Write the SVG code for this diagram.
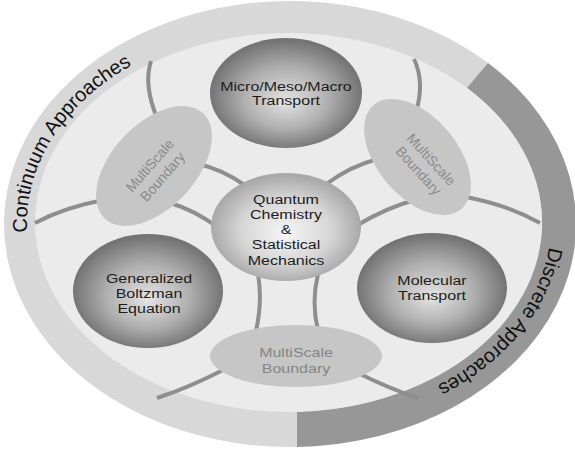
<svg xmlns="http://www.w3.org/2000/svg" width="575" height="450" viewBox="0 0 575 450">
<defs>
<radialGradient id="gDark" cx="50%" cy="52%" r="50%" fx="50%" fy="58%">
<stop offset="0" stop-color="#e4e4e4"/>
<stop offset="0.55" stop-color="#b0b0b0"/>
<stop offset="1" stop-color="#747474"/>
</radialGradient>
<radialGradient id="gLight" cx="50%" cy="52%" r="50%" fx="50%" fy="56%">
<stop offset="0" stop-color="#f6f6f6"/>
<stop offset="0.6" stop-color="#d6d6d6"/>
<stop offset="1" stop-color="#a9a9a9"/>
</radialGradient>
<path id="arcL" d="M27.2,232.3 A262,197 0 0 1 311.8,26.7"/>
<path id="arcR" d="M549,247 A262,197 0 0 1 334.5,417"/>
</defs>
<style>
.conn{fill:none;stroke:#8e8e8e;stroke-width:4}
.ms{fill:#c6c6c6}
.mst{font-family:"Liberation Sans",Arial,sans-serif;font-size:14px;fill:#8a8a8a;text-anchor:middle}
.nt{font-family:"Liberation Sans",Arial,sans-serif;font-size:16px;fill:#1c1c1c;text-anchor:middle}
.bt{font-family:"Liberation Sans",Arial,sans-serif;font-size:20px;fill:#111111}
</style>
<g id="background">
<ellipse cx="290" cy="224" rx="286" ry="223" fill="#d8d8d8"/>
<path d="M488,63 A286,223 0 0 1 297,446.9 L297,412 A253.5,189.5 0 0 0 467,88 Z" fill="#979797"/>
<ellipse cx="288.5" cy="222.5" rx="253.5" ry="189.5" fill="#ebebeb"/>
</g>
<g id="band-labels">
<text class="bt"><textPath href="#arcL">Continuum Approaches</textPath></text>
<text class="bt"><textPath href="#arcR">Discrete Approaches</textPath></text>
</g>
<g id="connectors">
<path class="conn" d="M151,61 Q143,86 158,120"/>
<path class="conn" d="M198,164 Q222,169 246,186"/>
<path class="conn" d="M35,223 Q65,207 104,200"/>
<path class="conn" d="M170,203 Q195,210 220,229"/>
<path class="conn" d="M414,59 Q425,82 416,112"/>
<path class="conn" d="M378,159 Q350,166 325,185"/>
<path class="conn" d="M466,197 Q508,205 540,223"/>
<path class="conn" d="M418,199 Q385,208 356,226"/>
<path class="conn" d="M258,274 Q263,303 255,335"/>
<path class="conn" d="M223,370 Q188,388 157,398"/>
<path class="conn" d="M318,274 Q311,303 318,330"/>
<path class="conn" d="M356,372 Q390,389 418,398"/>
</g>
<g id="boundary-upper-left">
<ellipse class="ms" cx="154" cy="166" rx="72" ry="42" transform="rotate(-47 154 166)"/>
<text class="mst" transform="translate(156,171) rotate(-49)"><tspan x="0" y="-3.5">MultiScale</tspan><tspan x="0" y="13.5">Boundary</tspan></text>
</g>
<g id="boundary-upper-right">
<ellipse class="ms" cx="417.5" cy="157" rx="68" ry="40" transform="rotate(50 417.5 157)"/>
<text class="mst" transform="translate(425,165) rotate(48)"><tspan x="0" y="-3.5">MultiScale</tspan><tspan x="0" y="13.5">Boundary</tspan></text>
</g>
<g id="boundary-bottom">
<ellipse class="ms" cx="296" cy="356" rx="86" ry="31"/>
<text class="nt" style="fill:#858585" transform="translate(296,357) scale(1,0.8)"><tspan x="0" y="0">MultiScale</tspan><tspan x="0" y="20">Boundary</tspan></text>
</g>
<g id="node-transport">
<ellipse cx="286" cy="93" rx="76" ry="55" fill="url(#gDark)"/>
<text class="nt" transform="translate(286,90.5) scale(1,0.82)"><tspan x="0" y="0">Micro/Meso/Macro</tspan><tspan x="0" y="18.3">Transport</tspan></text>
</g>
<g id="node-quantum">
<ellipse cx="286" cy="227" rx="75" ry="54" fill="url(#gLight)"/>
<text class="nt" transform="translate(286,203.5) scale(1,0.82)"><tspan x="0" y="0">Quantum</tspan><tspan x="0" y="18.7">Chemistry</tspan><tspan x="0" y="37.4">&amp;</tspan><tspan x="0" y="56.1">Statistical</tspan><tspan x="0" y="74.8">Mechanics</tspan></text>
</g>
<g id="node-boltzman">
<ellipse cx="148" cy="291" rx="75" ry="57" fill="url(#gDark)"/>
<text class="nt" transform="translate(149,283) scale(1,0.82)"><tspan x="0" y="0">Generalized</tspan><tspan x="0" y="18.5">Boltzman</tspan><tspan x="0" y="37">Equation</tspan></text>
</g>
<g id="node-molecular">
<ellipse cx="432" cy="288" rx="75" ry="55" fill="url(#gDark)"/>
<text class="nt" transform="translate(432,285) scale(1,0.82)"><tspan x="0" y="0">Molecular</tspan><tspan x="0" y="18.3">Transport</tspan></text>
</g>
</svg>
